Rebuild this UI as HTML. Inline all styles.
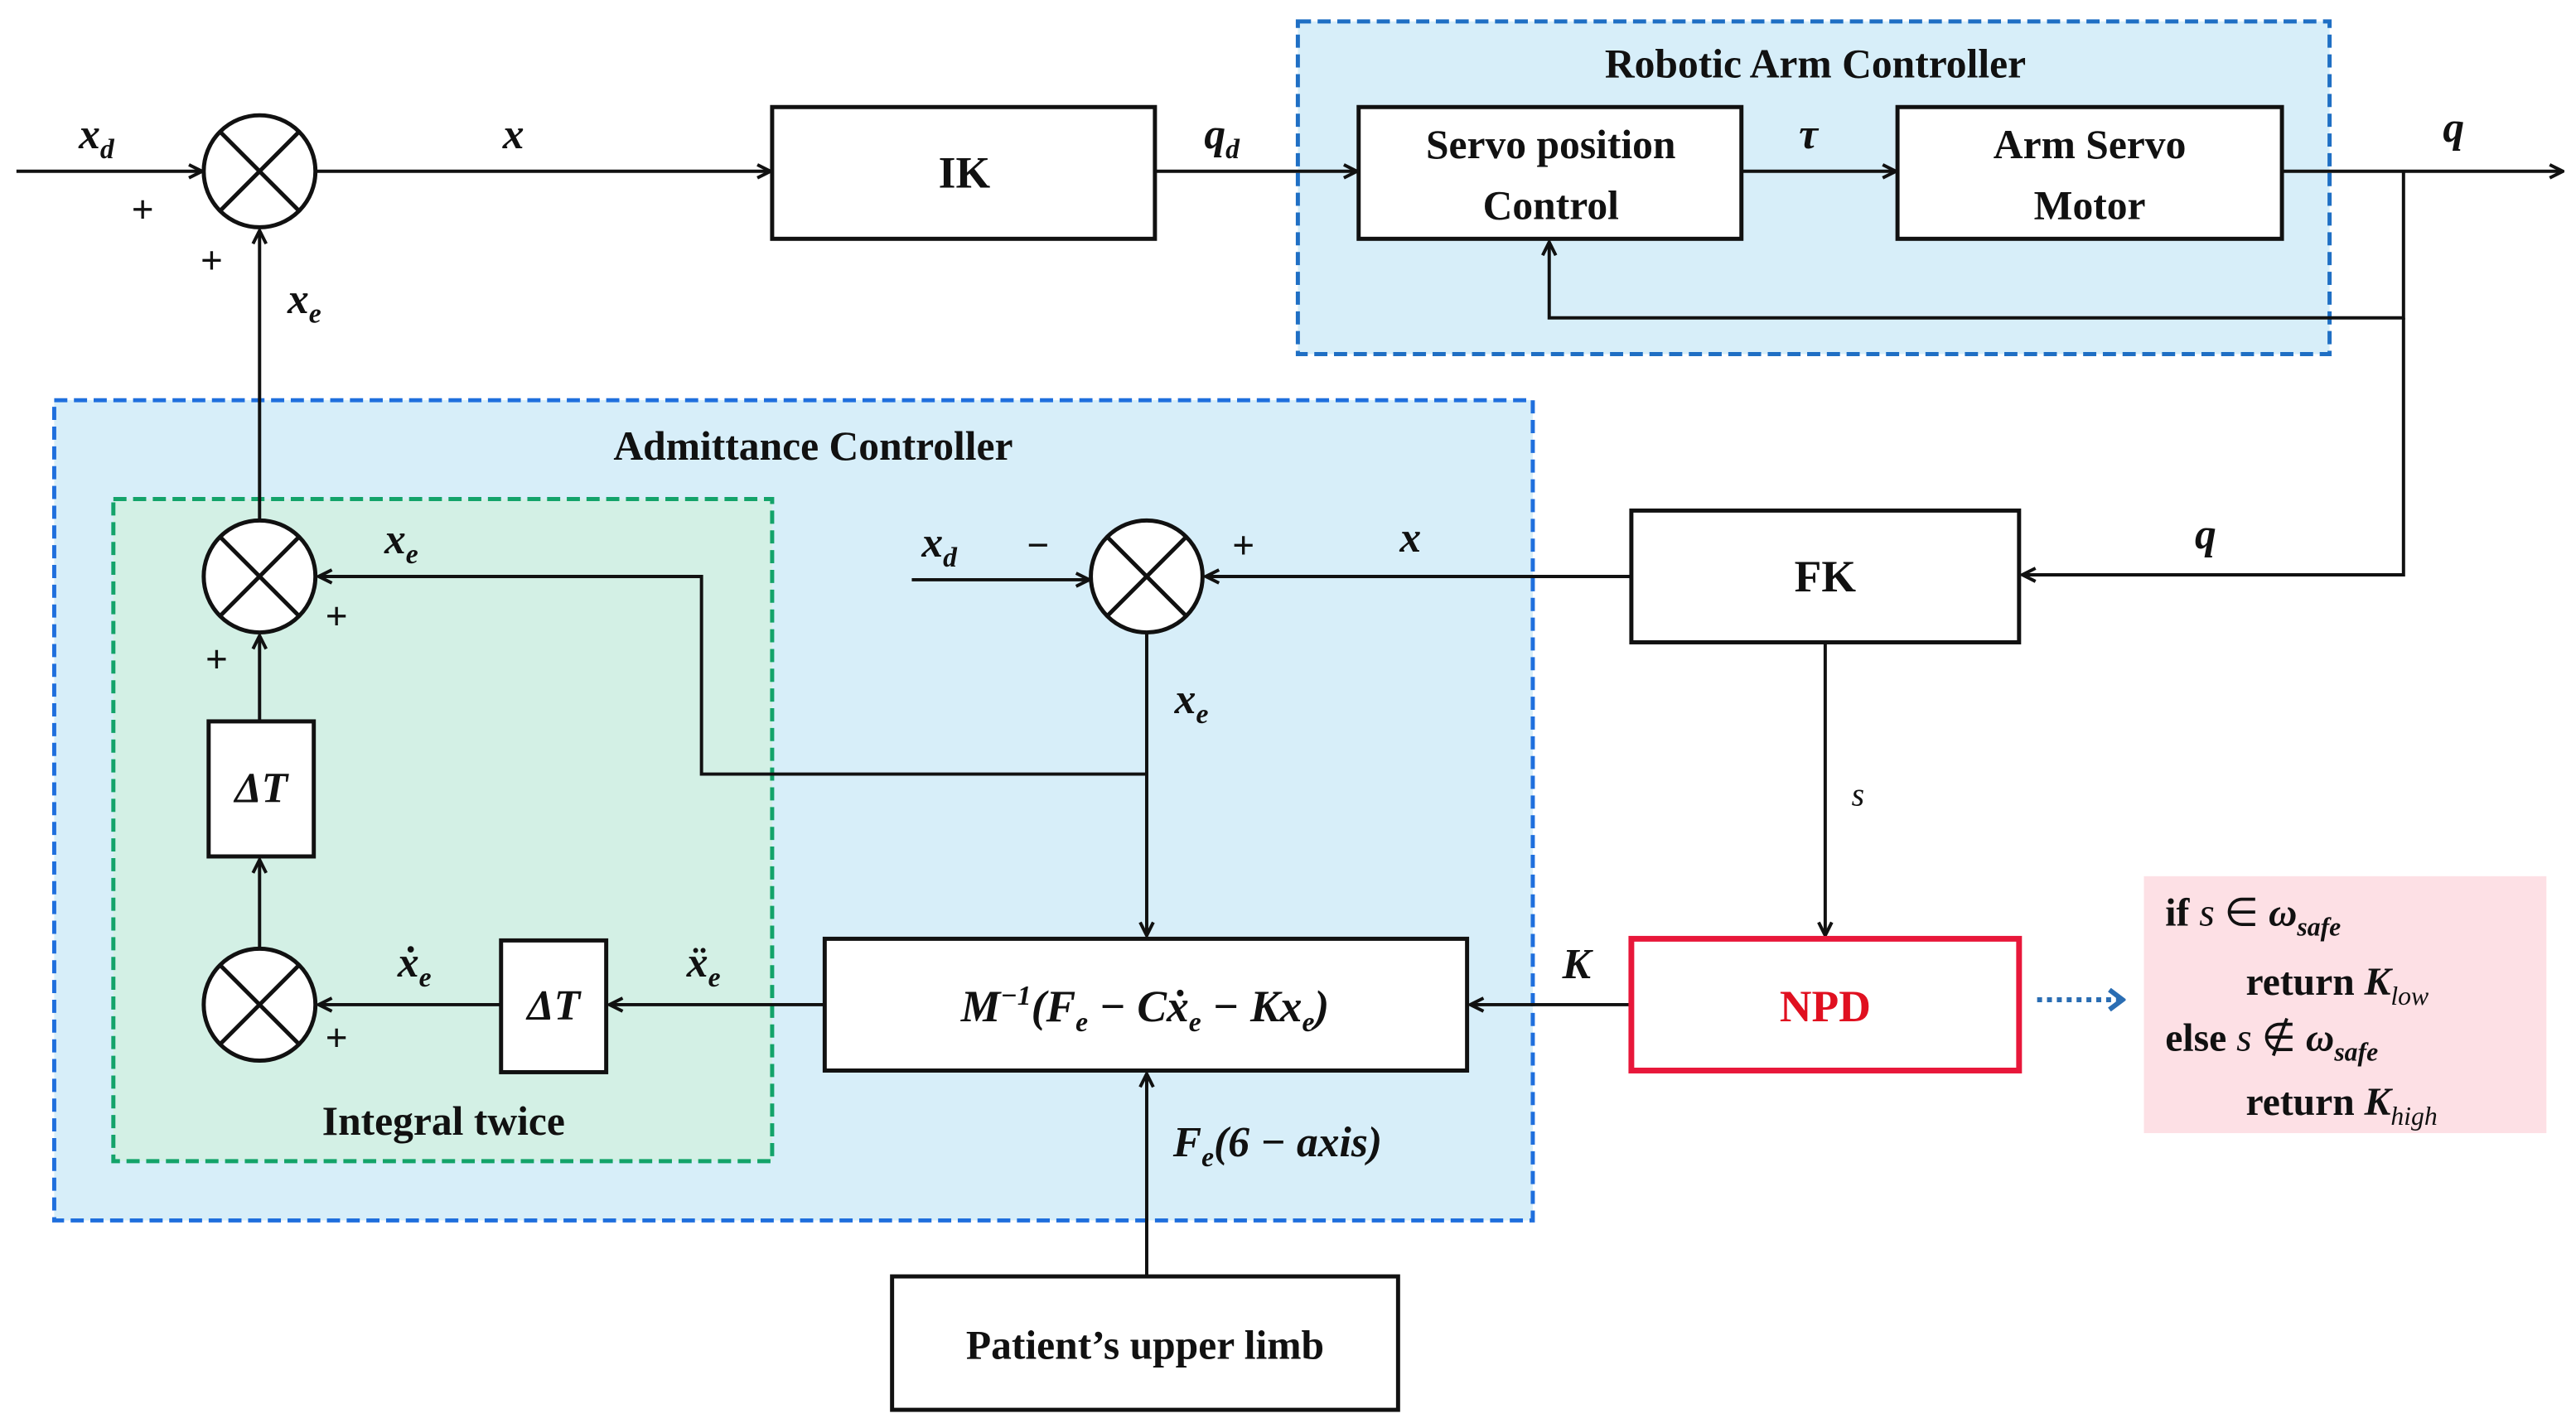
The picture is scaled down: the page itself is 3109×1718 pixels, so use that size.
<!DOCTYPE html>
<html><head><meta charset="utf-8"><style>
html,body{margin:0;padding:0;background:#fff;}
svg{display:block;}
text{font-family:"Liberation Serif",serif;font-weight:bold;fill:#111;}
.m{font-style:italic;}
</style></head><body>
<svg width="3109" height="1718" viewBox="0 0 1568 864" preserveAspectRatio="none" xmlns="http://www.w3.org/2000/svg">
<defs>
<marker id="a" markerWidth="10" markerHeight="10" refX="9" refY="5" orient="auto" markerUnits="userSpaceOnUse">
<path d="M1,1 L9,5 L1,9" fill="none" stroke="#111" stroke-width="2"/>
</marker>
<marker id="b" markerWidth="12" markerHeight="14" refX="10" refY="7" orient="auto" markerUnits="userSpaceOnUse">
<path d="M2,1 L10,7 L2,13" fill="none" stroke="#2a6db3" stroke-width="3"/>
</marker>
</defs>
<rect x="790" y="13" width="628" height="202" fill="#d7eef9" stroke="#1f6fc4" stroke-width="2.5" stroke-dasharray="8,4"/>
<rect x="33" y="243" width="900" height="498" fill="#d7eef9" stroke="#1f6fdd" stroke-width="2.5" stroke-dasharray="8,4"/>
<rect x="69" y="303" width="401" height="402" fill="#d3f0e5" stroke="#13a36a" stroke-width="2.5" stroke-dasharray="8,4"/>
<rect x="1305" y="532" width="245" height="156" fill="#fde0e5"/>

<g stroke="#111" stroke-width="2" fill="none">
<line x1="10" y1="104" x2="123" y2="104" marker-end="url(#a)"/>
<line x1="192" y1="104" x2="469" y2="104" marker-end="url(#a)"/>
<line x1="704" y1="104" x2="826" y2="104" marker-end="url(#a)"/>
<line x1="1061" y1="104" x2="1154" y2="104" marker-end="url(#a)"/>
<line x1="1390" y1="104" x2="1560" y2="104" marker-end="url(#a)"/>
<polyline points="1463,104 1463,193 943,193 943,147" marker-end="url(#a)"/>
<polyline points="1463,193 1463,349 1231,349" marker-end="url(#a)"/>
<line x1="993" y1="350" x2="734" y2="350" marker-end="url(#a)"/>
<line x1="555" y1="352" x2="663" y2="352" marker-end="url(#a)"/>
<line x1="698" y1="384" x2="698" y2="568" marker-end="url(#a)"/>
<polyline points="698,470 427,470 427,350 194,350" marker-end="url(#a)"/>
<line x1="158" y1="316" x2="158" y2="140" marker-end="url(#a)"/>
<line x1="158" y1="438" x2="158" y2="386" marker-end="url(#a)"/>
<line x1="158" y1="576" x2="158" y2="522" marker-end="url(#a)"/>
<line x1="305" y1="610" x2="194" y2="610" marker-end="url(#a)"/>
<line x1="502" y1="610" x2="371" y2="610" marker-end="url(#a)"/>
<line x1="1111" y1="390" x2="1111" y2="568" marker-end="url(#a)"/>
<line x1="993" y1="610" x2="895" y2="610" marker-end="url(#a)"/>
<line x1="698" y1="775" x2="698" y2="652" marker-end="url(#a)"/>
</g>
<line x1="1240" y1="607" x2="1292" y2="607" stroke="#2a6db3" stroke-width="3" stroke-dasharray="3,3" marker-end="url(#b)"/>

<g stroke="#111" stroke-width="2.5" fill="#fff">
<rect x="470" y="65" width="233" height="80"/>
<rect x="827" y="65" width="233" height="80"/>
<rect x="1155" y="65" width="234" height="80"/>
<rect x="993" y="310" width="236" height="80"/>
<rect x="127" y="438" width="64" height="82"/>
<rect x="305" y="571" width="64" height="80"/>
<rect x="502" y="570" width="391" height="80"/>
<rect x="543" y="775" width="308" height="81"/>
</g>
<rect x="993" y="570" width="236" height="80" fill="#fff" stroke="#e8173a" stroke-width="3.5"/>

<g stroke="#111" stroke-width="2.5" fill="#fff">
<g transform="translate(158,104)"><ellipse rx="34" ry="34"/><line x1="-24" y1="-24" x2="24" y2="24"/><line x1="24" y1="-24" x2="-24" y2="24"/></g>
<g transform="translate(158,350)"><ellipse rx="34" ry="34"/><line x1="-24" y1="-24" x2="24" y2="24"/><line x1="24" y1="-24" x2="-24" y2="24"/></g>
<g transform="translate(698,350)"><ellipse rx="34" ry="34"/><line x1="-24" y1="-24" x2="24" y2="24"/><line x1="24" y1="-24" x2="-24" y2="24"/></g>
<g transform="translate(158,610)"><ellipse rx="34" ry="34"/><line x1="-24" y1="-24" x2="24" y2="24"/><line x1="24" y1="-24" x2="-24" y2="24"/></g>
</g>

<g font-size="25" text-anchor="middle">
<text x="1105" y="47">Robotic Arm Controller</text>
<text x="495" y="279">Admittance Controller</text>
<text x="270" y="689">Integral twice</text>
<text x="587" y="114" font-size="27">IK</text>
<text x="944" y="96">Servo position</text>
<text x="944" y="133">Control</text>
<text x="1272" y="96">Arm Servo</text>
<text x="1272" y="133">Motor</text>
<text x="1111" y="359" font-size="27">FK</text>
<text x="1111" y="620" font-size="27" style="fill:#e01020">NPD</text>
<text x="697" y="825">Patient’s upper limb</text>
<text x="697" y="620" class="m" font-size="27">M<tspan dy="-10" font-size="17">−1</tspan><tspan dy="10">(F</tspan><tspan dy="6" font-size="17">e</tspan><tspan dy="-6"> − Cẋ</tspan><tspan dy="6" font-size="17">e</tspan><tspan dy="-6"> − Kx</tspan><tspan dy="6" font-size="17">e</tspan><tspan dy="-6">)</tspan></text>
<text x="159" y="487" class="m" font-size="26">ΔT</text>
<text x="337" y="619" class="m" font-size="26">ΔT</text>
</g>

<g class="m" font-size="26">
<text x="48" y="90" class="m">x<tspan dy="6" font-size="17">d</tspan></text>
<text x="306" y="90" class="m">x</text>
<text x="733" y="90" class="m">q<tspan dy="6" font-size="17">d</tspan></text>
<text x="1095" y="90" class="m">τ</text>
<text x="1487" y="86" class="m">q</text>
<text x="175" y="190" class="m">x<tspan dy="6" font-size="17">e</tspan></text>
<text x="234" y="336" class="m">x<tspan dy="6" font-size="17">e</tspan></text>
<text x="561" y="338" class="m">x<tspan dy="6" font-size="17">d</tspan></text>
<text x="852" y="335" class="m">x</text>
<text x="1336" y="333" class="m">q</text>
<text x="715" y="433" class="m">x<tspan dy="6" font-size="17">e</tspan></text>
<text x="242" y="593" class="m">ẋ<tspan dy="6" font-size="17">e</tspan></text>
<text x="418" y="593" class="m">ẍ<tspan dy="6" font-size="17">e</tspan></text>
<text x="951" y="594" class="m">K</text>
<text x="1127" y="489" class="m" font-size="20" style="font-weight:normal">s</text>
<text x="714" y="702" class="m">F<tspan dy="6" font-size="17">e</tspan><tspan dy="-6">(6 − axis)</tspan></text>
</g>
<g font-size="24" style="font-weight:normal">
<text x="80" y="135">+</text>
<text x="122" y="166">+</text>
<text x="198" y="382">+</text>
<text x="125" y="408">+</text>
<text x="198" y="638">+</text>
<text x="750" y="339">+</text>
<text x="625" y="339">−</text>
</g>

<g font-size="24">
<text x="1318" y="562">if <tspan class="m" style="font-weight:normal">s</tspan><tspan style="font-weight:normal"> ∈ </tspan><tspan class="m">ω</tspan><tspan class="m" dy="6" font-size="16">safe</tspan></text>
<text x="1367" y="604">return <tspan class="m">K</tspan><tspan class="m" dy="6" font-size="16" style="font-weight:normal">low</tspan></text>
<text x="1318" y="638">else <tspan class="m" style="font-weight:normal">s</tspan><tspan style="font-weight:normal"> ∉ </tspan><tspan class="m">ω</tspan><tspan class="m" dy="6" font-size="16">safe</tspan></text>
<text x="1367" y="677">return <tspan class="m">K</tspan><tspan class="m" dy="6" font-size="16" style="font-weight:normal">high</tspan></text>
</g>
</svg>
</body></html>
